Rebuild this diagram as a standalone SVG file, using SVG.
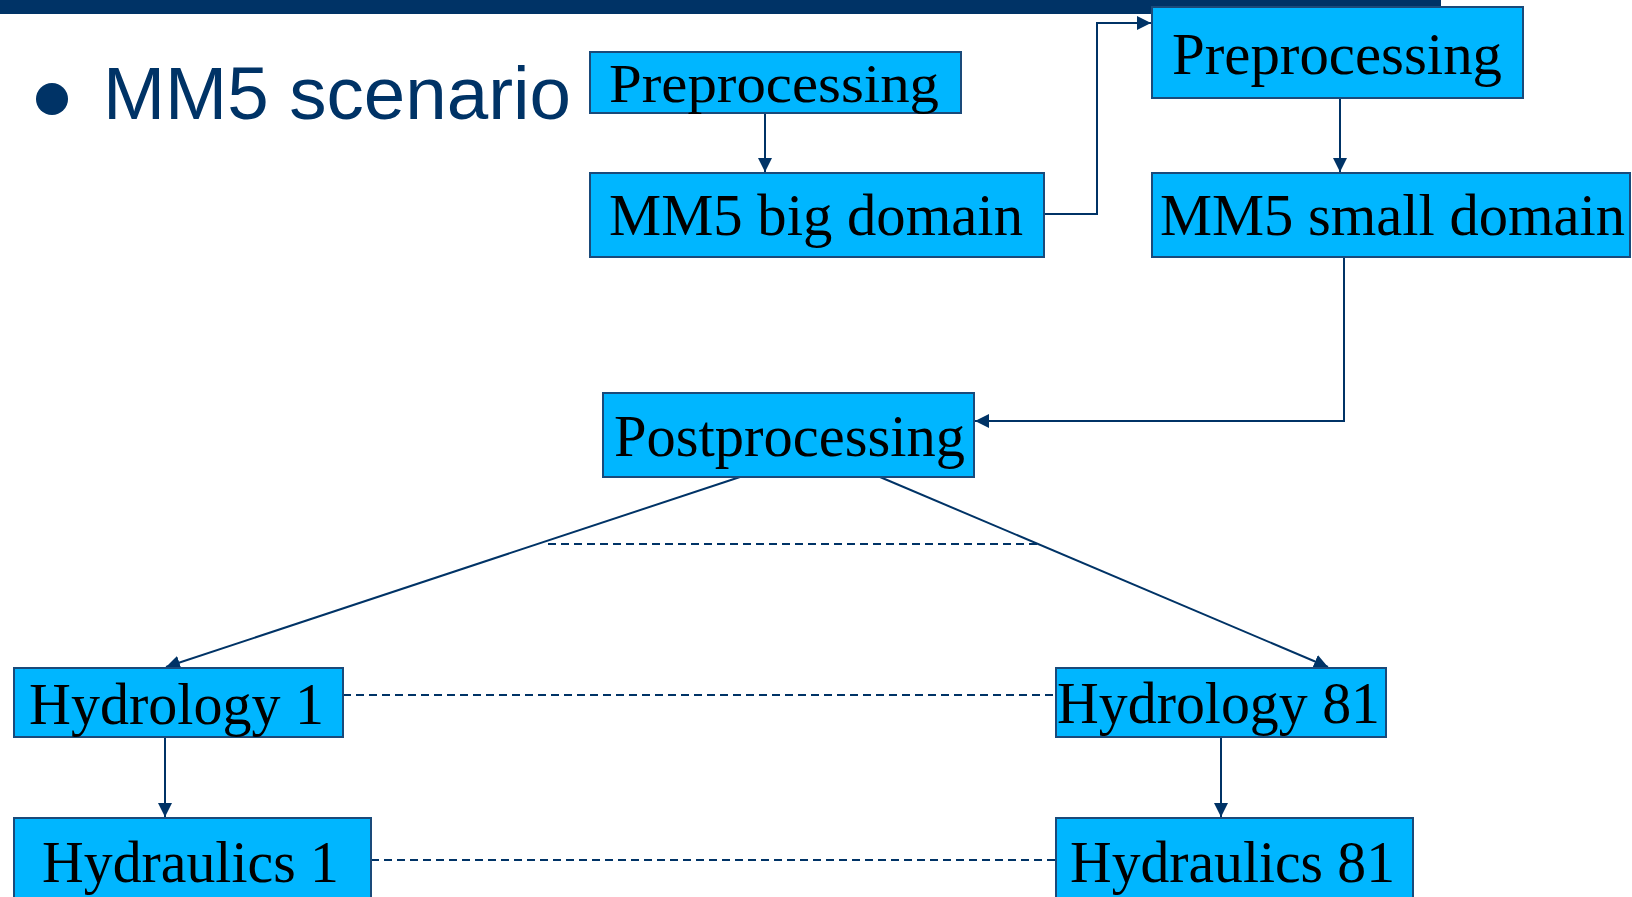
<svg xmlns="http://www.w3.org/2000/svg" width="1632" height="897" viewBox="0 0 1632 897">
<style>
.box{fill:#00B6FF;stroke:#1A4A7A;stroke-width:2}
.lbl{font-family:"Liberation Serif","Times New Roman",serif;font-size:59px;fill:#000}
.con{fill:none;stroke:#003366;stroke-width:2}
.dash{fill:none;stroke:#003366;stroke-width:2;stroke-dasharray:8 5}
</style>
<defs>
<marker id="ah" markerUnits="userSpaceOnUse" markerWidth="14" markerHeight="14" refX="14" refY="7" orient="auto">
<path d="M0,0 L14,7 L0,14 z" fill="#003366"/>
</marker>
</defs>
<rect width="1632" height="897" fill="#fff"/>
<rect x="0" y="0" width="1441" height="14" fill="#003366"/>
<g id="title">
<circle cx="52" cy="99" r="16" fill="#003366"/>
<text x="103" y="119" font-family="'Liberation Sans',Arial,sans-serif" font-size="75" fill="#003366" textLength="468" lengthAdjust="spacingAndGlyphs">MM5 scenario</text>
</g>
<g id="connectors">
<line class="con" x1="765" y1="113" x2="765" y2="172" marker-end="url(#ah)"/>
<polyline class="con" points="1044,214 1097,214 1097,23 1151,23" marker-end="url(#ah)"/>
<line class="con" x1="1340" y1="98" x2="1340" y2="172" marker-end="url(#ah)"/>
<polyline class="con" points="1344,257 1344,421 975,421" marker-end="url(#ah)"/>
<line class="con" x1="740" y1="477" x2="166" y2="667" marker-end="url(#ah)"/>
<line class="con" x1="880" y1="477" x2="1328" y2="667" marker-end="url(#ah)"/>
<line class="con" x1="165" y1="737" x2="165" y2="817" marker-end="url(#ah)"/>
<line class="con" x1="1221" y1="737" x2="1221" y2="817" marker-end="url(#ah)"/>
<line class="dash" x1="548" y1="544" x2="1040" y2="544"/>
<line class="dash" x1="343" y1="695" x2="1056" y2="695"/>
<line class="dash" x1="371" y1="860" x2="1056" y2="860"/>
</g>
<g id="pre1">
<rect class="box" x="590" y="52" width="371" height="61"/>
<text class="lbl" transform="translate(609,102) scale(1,0.92)" textLength="330" lengthAdjust="spacingAndGlyphs">Preprocessing</text>
</g>
<g id="big">
<rect class="box" x="590" y="173" width="454" height="84"/>
<text class="lbl" x="609" y="235" textLength="414" lengthAdjust="spacingAndGlyphs">MM5 big domain</text>
</g>
<g id="pre2">
<rect class="box" x="1152" y="7" width="371" height="91"/>
<text class="lbl" x="1172" y="74" font-size="61" textLength="330" lengthAdjust="spacingAndGlyphs">Preprocessing</text>
</g>
<g id="small">
<rect class="box" x="1152" y="173" width="478" height="84"/>
<text class="lbl" x="1160" y="235" textLength="465" lengthAdjust="spacingAndGlyphs">MM5 small domain</text>
</g>
<g id="post">
<rect class="box" x="603" y="393" width="371" height="84"/>
<text class="lbl" x="614" y="456" textLength="351" lengthAdjust="spacingAndGlyphs">Postprocessing</text>
</g>
<g id="hyd1">
<rect class="box" x="14" y="668" width="329" height="69"/>
<text class="lbl" x="29" y="724" textLength="295" lengthAdjust="spacingAndGlyphs">Hydrology 1</text>
</g>
<g id="hyd81">
<rect class="box" x="1056" y="668" width="330" height="69"/>
<text class="lbl" x="1057" y="723" textLength="323" lengthAdjust="spacingAndGlyphs">Hydrology 81</text>
</g>
<g id="hydr1">
<rect class="box" x="14" y="818" width="357" height="90"/>
<text class="lbl" x="42" y="882" textLength="297" lengthAdjust="spacingAndGlyphs">Hydraulics 1</text>
</g>
<g id="hydr81">
<rect class="box" x="1056" y="818" width="357" height="90"/>
<text class="lbl" x="1070" y="882" textLength="325" lengthAdjust="spacingAndGlyphs">Hydraulics 81</text>
</g>
</svg>
